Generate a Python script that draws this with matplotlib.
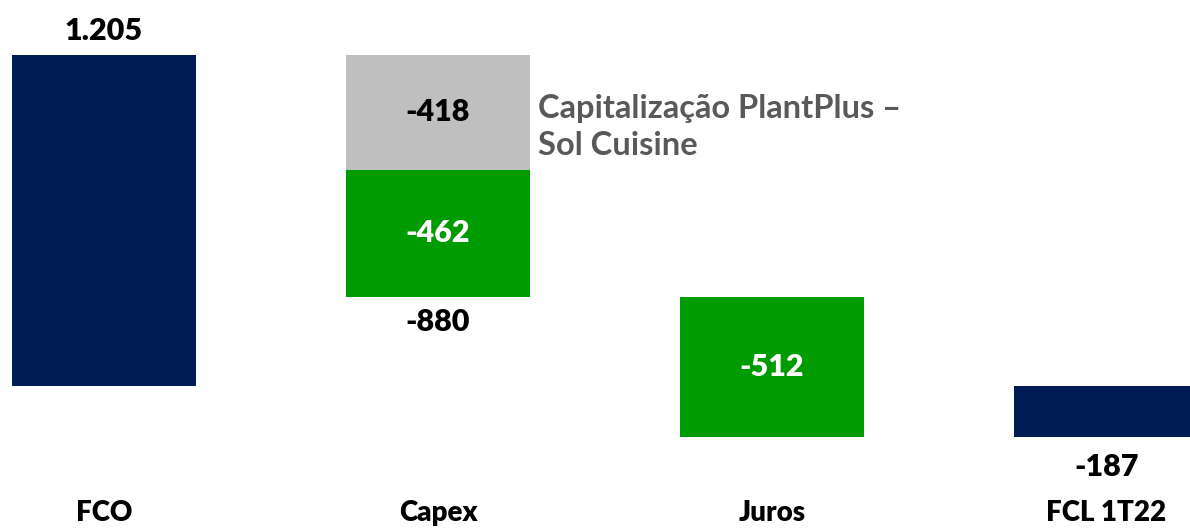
import matplotlib
matplotlib.use("Agg")
import matplotlib.pyplot as plt
from matplotlib.transforms import blended_transform_factory

plt.rcParams['font.family'] = ['Lato', 'DejaVu Sans']

categories = ["FCO", "Capex", "Juros", "FCL 1T22"]
fco = 1205
capex_plantplus = -418
capex_other = -462
capex_total = -880
juros = -512
fcl = -187
annot_lines = ["Capitalização PlantPlus –", "Sol Cuisine"]

navy = "#001C54"
green = "#009B00"
gray = "#BFBFBF"

fig = plt.figure(figsize=(11.9, 5.28), dpi=100)
ax = fig.add_axes([0, 0, 1, 1])
ax.set_xlim(-0.311, 3.251)
ax.set_ylim(-517, 1405)
ax.axis('off')

w = 0.551
x = [0, 1, 2, 3]

# FCO
ax.bar(x[0], fco, width=w, bottom=0, color=navy)
# Capex: PlantPlus (gray) then other (green)
b1 = fco + capex_plantplus
ax.bar(x[1], capex_plantplus, width=w, bottom=fco, color=gray)
b2 = b1 + capex_other
ax.bar(x[1], capex_other, width=w, bottom=b1, color=green)
# Juros
b3 = b2 + juros
ax.bar(x[2], juros, width=w, bottom=b2, color=green)
# FCL
ax.bar(x[3], fcl, width=w, bottom=0, color=navy)

fs = 22
def fmt(v):
    return f"{v:,}".replace(",", ".")

ax.annotate(fmt(fco), (x[0], fco), xytext=(0, 7), textcoords='offset points',
            ha='center', va='bottom', fontsize=fs, fontweight='heavy', color='black')
ax.text(x[1], fco + capex_plantplus / 2, fmt(capex_plantplus), ha='center', va='center',
        fontsize=fs, fontweight='heavy', color='black')
ax.text(x[1], b1 + capex_other / 2, fmt(capex_other), ha='center', va='center',
        fontsize=fs, fontweight='heavy', color='white')
ax.annotate(fmt(capex_total), (x[1], b2), xytext=(0, -8), textcoords='offset points',
            ha='center', va='top', fontsize=fs, fontweight='heavy', color='black')
ax.text(x[2], b2 + juros / 2, fmt(juros), ha='center', va='center',
        fontsize=fs, fontweight='heavy', color='white')
ax.annotate(fmt(fcl), (x[3], fcl), xytext=(0, -11), textcoords='offset points',
            ha='center', va='top', fontsize=fs, fontweight='heavy', color='black')

# annotation for gray segment
ann_fs = 23.5
ax.annotate(annot_lines[0], (x[1] + w / 2, fco + capex_plantplus / 2), xytext=(6, 3),
            textcoords='offset points', ha='left', va='center', fontsize=ann_fs,
            fontweight='bold', color='#595959')
ax.annotate(annot_lines[1], (x[1] + w / 2, fco + capex_plantplus / 2), xytext=(6, -24),
            textcoords='offset points', ha='left', va='center', fontsize=ann_fs,
            fontweight='bold', color='#595959')

trans = blended_transform_factory(ax.transData, ax.transAxes)
for xi, c in zip(x, categories):
    ax.text(xi, 0.028, c, transform=trans, ha='center', va='center',
            fontsize=20, fontweight='heavy', color='black')

fig.savefig("out.png", dpi=100)
